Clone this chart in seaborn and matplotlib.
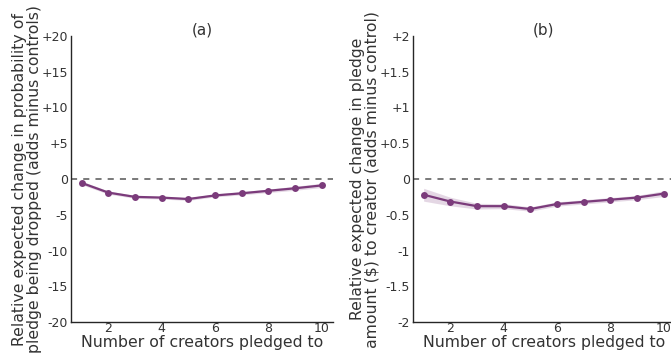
import numpy as np
import pandas as pd
import seaborn as sns
import matplotlib
matplotlib.use("Agg")
import matplotlib.pyplot as plt

# Number of creators a patron is pledged to
n_creators = [1, 2, 3, 4, 5, 6, 7, 8, 9, 10]

# (a) change in probability of a pledge being dropped (percentage points)
drop_mean = [-0.55, -1.9, -2.5, -2.6, -2.8, -2.3, -2.0, -1.65, -1.3, -0.9]
drop_ci = [0.25, 0.22, 0.2, 0.2, 0.2, 0.2, 0.22, 0.25, 0.28, 0.3]

# (b) change in pledge amount to creator ($)
amount_mean = [-0.22, -0.315, -0.38, -0.38, -0.42, -0.35, -0.32, -0.29, -0.26, -0.205]
amount_ci = [0.09, 0.06, 0.04, 0.035, 0.03, 0.03, 0.03, 0.03, 0.03, 0.04]

a_ticks = [-20, -15, -10, -5, 0, 5, 10, 15, 20]
a_ticklabels = ["-20", "-15", "-10", "-5", "0", "+5", "+10", "+15", "+20"]
b_ticks = [-2, -1.5, -1, -0.5, 0, 0.5, 1, 1.5, 2]
b_ticklabels = ["-2", "-1.5", "-1", "-0.5", "0", "+0.5", "+1", "+1.5", "+2"]

sns.set_theme(style="white")
plt.rcParams["font.family"] = ["DejaVu Sans"]

color = "#7b3b7b"
text_color = "#333333"

fig = plt.figure(figsize=(6.71, 3.54), dpi=100)
W, H = 671, 354
ax_a = fig.add_axes([71 / W, 32 / H, 262 / W, 286 / H])
ax_b = fig.add_axes([413 / W, 32 / H, 262 / W, 286 / H])

panels = [
    (ax_a, drop_mean, drop_ci, a_ticks, a_ticklabels, (-20, 20), "(a)",
     "Relative expected change in probability of\npledge being dropped (adds minus controls)"),
    (ax_b, amount_mean, amount_ci, b_ticks, b_ticklabels, (-2, 2), "(b)",
     "Relative expected change in pledge\namount ($) to creator (adds minus control)"),
]

for ax, mean, ci, ticks, ticklabels, ylim, title, ylabel in panels:
    df = pd.DataFrame({"n": n_creators, "mean": mean, "ci": ci})
    ax.fill_between(df["n"], df["mean"] - df["ci"], df["mean"] + df["ci"],
                    color=color, alpha=0.2, linewidth=0)
    sns.lineplot(data=df, x="n", y="mean", ax=ax, color=color, marker="o",
                 markersize=5, markeredgewidth=0, linewidth=1.6)
    ax.axhline(0, color="#555555", linestyle=(0, (4, 4)), linewidth=1.1, zorder=0)
    ax.set_xlim(0.6, 10.43)
    ax.set_ylim(*ylim)
    ax.set_xticks([2, 4, 6, 8, 10])
    ax.set_xticklabels(["2", "4", "6", "8", "10"])
    ax.set_yticks(ticks)
    ax.set_yticklabels(ticklabels)
    ax.tick_params(axis="x", length=0, pad=0, labelsize=9, labelcolor=text_color)
    ax.tick_params(axis="y", length=0, pad=2, labelsize=9, labelcolor=text_color)
    ax.set_xlabel("Number of creators pledged to", fontsize=11.3, color=text_color)
    ax.xaxis.set_label_coords(0.5, -0.045)
    ax.set_ylabel(ylabel, fontsize=11.3, color=text_color, labelpad=0, linespacing=0.95)
    ax.set_title(title, fontsize=11, color=text_color, pad=1)
    for side in ["top", "right"]:
        ax.spines[side].set_visible(False)
    for side in ["left", "bottom"]:
        ax.spines[side].set_color("#262626")
        ax.spines[side].set_linewidth(1.0)

fig.savefig("out.png", dpi=100)
